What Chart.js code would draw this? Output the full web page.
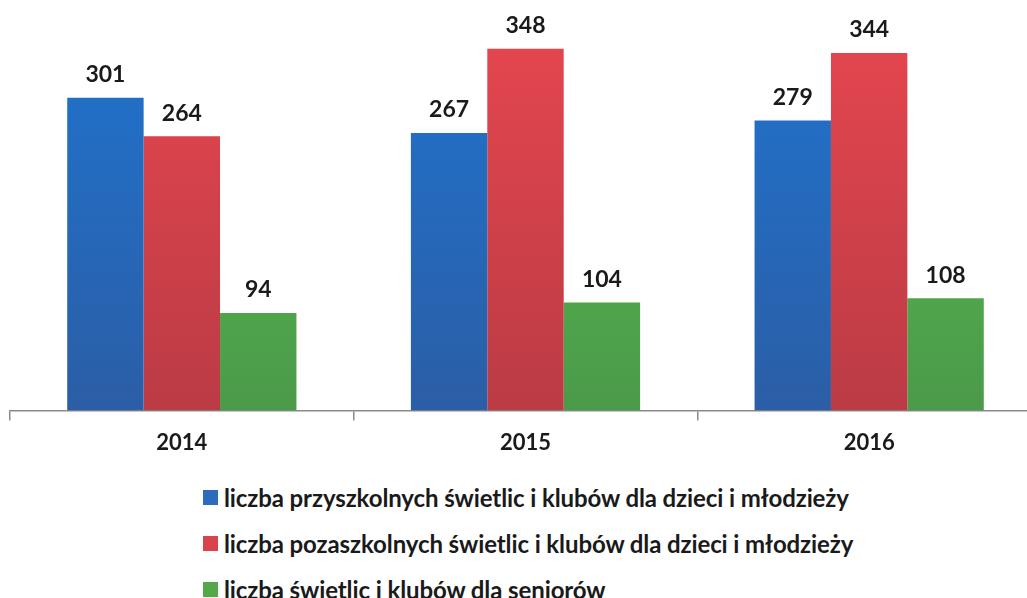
<!DOCTYPE html>
<html>
<head>
<meta charset="utf-8">
<script src="https://cdn.jsdelivr.net/npm/chart.js@4"></script>
<style>
  html, body { margin: 0; padding: 0; background: #fff; overflow: hidden; }
  #wrap { position: relative; width: 1046px; height: 465px; }
  #legend { position: absolute; left: 203px; top: 474px; font: bold 24px Lato, sans-serif; color: #1a1a1a; }
  #legend div { height: 46px; display: flex; align-items: center; white-space: nowrap; letter-spacing: -0.1px; }
  #legend span.box { display: inline-block; width: 15px; height: 15px; margin-right: 6px; }
</style>
</head>
<body>
<div id="wrap"><canvas id="chart"></canvas></div>
<div id="legend"></div>
<script>
const years = ['2014', '2015', '2016'];
const seriesNames = [
  'liczba przyszkolnych świetlic i klubów dla dzieci i młodzieży',
  'liczba pozaszkolnych świetlic i klubów dla dzieci i młodzieży',
  'liczba świetlic i klubów dla seniorów'
];
const przyszkolne = [301, 267, 279];
const pozaszkolne = [264, 348, 344];
const seniorzy = [94, 104, 108];

const topColors = ['#1f74d0', '#e8474f', '#5dc24e'];
const bottomColors = ['#2b5ea6', '#bb3b45', '#4b9a4a'];
const boxColors = ['#2c6cbc', '#d9434c', '#55a84a'];

// vertical gradient over the chart area
const grad = (i) => (ctx) => {
  const area = ctx.chart.chartArea;
  if (!area) return topColors[i];
  const g = ctx.chart.ctx.createLinearGradient(0, area.top, 0, area.bottom);
  g.addColorStop(0, topColors[i]);
  g.addColorStop(1, bottomColors[i]);
  return g;
};

// numbers above the bars
const valueLabels = {
  id: 'valueLabels',
  afterDatasetsDraw(chart) {
    const ctx = chart.ctx;
    ctx.save();
    ctx.font = 'bold 23px Lato, sans-serif';
    ctx.fillStyle = '#1a1a1a';
    ctx.textAlign = 'center';
    ctx.textBaseline = 'middle';
    chart.data.datasets.forEach((ds, i) => {
      chart.getDatasetMeta(i).data.forEach((bar, j) => {
        ctx.fillText(ds.data[j], bar.x, bar.y - 23);
      });
    });
    ctx.restore();
  }
};

const chart = new Chart(document.getElementById('chart'), {
  type: 'bar',
  data: {
    labels: years,
    datasets: [
      { label: seriesNames[0], data: przyszkolne, backgroundColor: grad(0) },
      { label: seriesNames[1], data: pozaszkolne, backgroundColor: grad(1) },
      { label: seriesNames[2], data: seniorzy, backgroundColor: grad(2) }
    ]
  },
  options: {
    responsive: true,
    maintainAspectRatio: false,
    animation: false,
    categoryPercentage: 0.667,
    barPercentage: 1,
    layout: { padding: { left: 10, right: 5, top: 0, bottom: 0 } },
    scales: {
      y: { display: false, min: 0, max: 395 },
      x: {
        border: { display: true, color: '#8a8a8a', width: 1.5 },
        grid: {
          offset: true,
          drawOnChartArea: false,
          drawTicks: true,
          tickLength: 10,
          color: '#8a8a8a',
          lineWidth: 1.5
        },
        ticks: {
          color: '#1a1a1a',
          padding: 9,
          font: { family: 'Lato, sans-serif', size: 22, weight: 'bold' }
        }
      }
    },
    plugins: {
      legend: { display: false },
      tooltip: { enabled: false }
    }
  },
  plugins: [valueLabels]
});

// legend below the chart
const legendEl = document.getElementById('legend');
seriesNames.forEach((name, i) => {
  const row = document.createElement('div');
  row.innerHTML = '<span class="box" style="background:' + boxColors[i] + '"></span>' + name;
  legendEl.appendChild(row);
});
</script>
</body>
</html>
